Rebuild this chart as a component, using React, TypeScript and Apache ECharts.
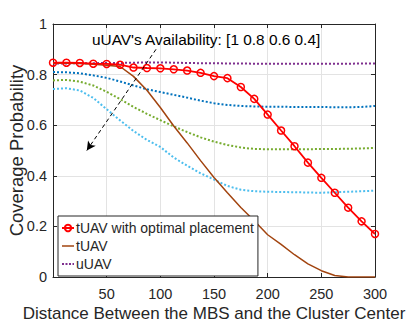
import React, { useEffect, useRef } from 'react';
import * as echarts from 'echarts';

const distance = [0, 12.5, 25, 37.5, 50, 62.5, 75, 87.5, 100, 112.5, 125, 137.5, 150, 162.5, 175, 187.5, 200, 212.5, 225, 237.5, 250, 262.5, 275, 287.5, 300];
const tuavOptimal = [0.847, 0.847, 0.846, 0.843, 0.842, 0.839, 0.828, 0.826, 0.825, 0.821, 0.816, 0.807, 0.794, 0.786, 0.751, 0.704, 0.642, 0.579, 0.517, 0.452, 0.392, 0.333, 0.274, 0.220, 0.170];
const tuav = [0.845, 0.845, 0.844, 0.841, 0.837, 0.832, 0.793, 0.738, 0.670, 0.597, 0.530, 0.460, 0.393, 0.333, 0.275, 0.222, 0.167, 0.129, 0.088, 0.052, 0.025, 0.006, 0, 0, 0];
const uuav = [0.844, 0.844, 0.845, 0.845, 0.846, 0.846, 0.847, 0.848, 0.848, 0.847, 0.846, 0.845, 0.845, 0.844, 0.844, 0.843, 0.843, 0.843, 0.843, 0.843, 0.843, 0.843, 0.843, 0.844, 0.844];
const uuav08 = [0.810, 0.809, 0.805, 0.797, 0.787, 0.773, 0.757, 0.742, 0.731, 0.720, 0.709, 0.697, 0.687, 0.680, 0.676, 0.674, 0.673, 0.673, 0.672, 0.672, 0.672, 0.671, 0.671, 0.672, 0.676];
const uuav06 = [0.777, 0.779, 0.772, 0.757, 0.732, 0.703, 0.672, 0.645, 0.620, 0.595, 0.573, 0.552, 0.535, 0.522, 0.512, 0.506, 0.505, 0.505, 0.505, 0.505, 0.506, 0.506, 0.507, 0.508, 0.510];
const uuav04 = [0.743, 0.746, 0.737, 0.708, 0.663, 0.619, 0.577, 0.542, 0.514, 0.472, 0.440, 0.410, 0.385, 0.360, 0.345, 0.339, 0.337, 0.336, 0.335, 0.334, 0.333, 0.335, 0.337, 0.339, 0.341];
const legendNames = ['tUAV with optimal placement', 'tUAV', 'uUAV'];
const annotation = "uUAV's Availability: [1 0.8 0.6 0.4]";
const arrowFrom = [96, 0.9];
const arrowTo = [31.5, 0.5];

const pairs = (ys: number[]) => distance.map((x, i) => [x, ys[i]]);
const FONT = 'Liberation Sans, Arial, Helvetica, sans-serif';
const TXT = '#262626';

export default function App() {
  const ref = useRef<HTMLDivElement>(null);
  useEffect(() => {
    if (!ref.current) return;
    const chart = echarts.init(ref.current, undefined, { renderer: 'svg' });
    const dotted = (color: string) => ({ color, width: 2, type: [2, 2] as number[], cap: 'butt' as const });
    chart.setOption({
      animation: false,
      backgroundColor: '#fff',
      textStyle: { fontFamily: FONT, color: TXT },
      grid: { left: 53, right: 40, top: 24, bottom: 45, containLabel: false, outerBoundsMode: 'none' },
      xAxis: [
        {
          type: 'value', min: 0, max: 300, interval: 50,
          name: 'Distance Between the MBS and the Cluster Center',
          nameLocation: 'middle', nameGap: 27.5, nameMoveOverlap: false,
          nameTextStyle: { fontSize: 17, color: TXT, fontFamily: FONT },
          axisLine: { show: true, lineStyle: { color: TXT, width: 1 } },
          axisTick: { show: true, inside: true, length: 4, lineStyle: { color: TXT } },
          axisLabel: { fontSize: 14.5, color: TXT, margin: 9, fontFamily: FONT, formatter: (v: number) => (v === 0 ? '' : String(v)) },
          splitLine: { show: true, lineStyle: { color: '#e3e3e3', width: 1 } },
        },
        {
          type: 'value', min: 0, max: 300, interval: 50, position: 'top',
          axisLine: { show: true, onZero: false, lineStyle: { color: TXT, width: 1 } },
          axisTick: { show: true, inside: true, length: 4, lineStyle: { color: TXT } },
          axisLabel: { show: false }, splitLine: { show: false },
        },
      ],
      yAxis: [
        {
          type: 'value', min: 0, max: 1, interval: 0.2,
          name: 'Coverage Probability', nameLocation: 'middle', nameGap: 27, nameMoveOverlap: false,
          nameTextStyle: { fontSize: 18.5, color: TXT, fontFamily: FONT },
          axisLine: { show: true, onZero: false, lineStyle: { color: TXT, width: 1 } },
          axisTick: { show: true, inside: true, length: 4, lineStyle: { color: TXT } },
          axisLabel: { fontSize: 14.5, color: TXT, margin: 6, fontFamily: FONT },
          splitLine: { show: true, lineStyle: { color: '#e3e3e3', width: 1 } },
        },
        {
          type: 'value', min: 0, max: 1, interval: 0.2, position: 'right',
          axisLine: { show: true, onZero: false, lineStyle: { color: TXT, width: 1 } },
          axisTick: { show: true, inside: true, length: 4, lineStyle: { color: TXT } },
          axisLabel: { show: false }, splitLine: { show: false },
        },
      ],
      legend: {
        data: [
          { name: legendNames[0] },
          { name: legendNames[1], icon: 'path://M0,0 L12,0 L12,1.5 L0,1.5 Z' },
          { name: legendNames[2], icon: 'path://M0,0 h2 v2 h-2 Z M3.5,0 h2 v2 h-2 Z M7,0 h2 v2 h-2 Z M10.5,0 h1.5 v2 h-1.5 Z' },
        ],
        orient: 'vertical', left: 58, top: 216,
        padding: [5, 4, 5, 3], itemGap: 4, itemWidth: 12, itemHeight: 8,
        backgroundColor: '#fff', borderColor: TXT, borderWidth: 1, borderRadius: 0,
        textStyle: { fontSize: 14, color: TXT, fontFamily: FONT, lineHeight: 14, padding: [0, 0, 0, -3] },
      },
      graphic: [
        {
          type: 'text', left: 92, top: 31.5, z: 100,
          style: { text: annotation, fontSize: 15.4, fill: '#000', fontFamily: FONT },
        },
      ],
      series: [
        { name: 'uUAV 0.4', type: 'line', data: pairs(uuav04), showSymbol: false, symbol: 'none', lineStyle: dotted('#4DBEEE'), itemStyle: { color: '#4DBEEE' } },
        { name: 'uUAV 0.6', type: 'line', data: pairs(uuav06), showSymbol: false, symbol: 'none', lineStyle: dotted('#77AC30'), itemStyle: { color: '#77AC30' } },
        { name: 'uUAV 0.8', type: 'line', data: pairs(uuav08), showSymbol: false, symbol: 'none', lineStyle: dotted('#0072BD'), itemStyle: { color: '#0072BD' } },
        { name: 'uUAV', type: 'line', data: pairs(uuav), showSymbol: false, symbol: 'none', lineStyle: dotted('#7E2F8E'), itemStyle: { color: '#7E2F8E' } },
        { name: 'tUAV', type: 'line', data: pairs(tuav), showSymbol: false, symbol: 'none', lineStyle: { color: '#A2440F', width: 1.5 }, itemStyle: { color: '#A2440F' } },
        {
          name: 'tUAV with optimal placement', type: 'line', data: pairs(tuavOptimal),
          symbol: 'circle', symbolSize: 7,
          lineStyle: { color: '#FF0000', width: 1.8 },
          itemStyle: { color: 'rgba(255,255,255,0)', borderColor: '#FF0000', borderWidth: 1.5 },
          markLine: {
            silent: true, symbol: ['none', 'arrow'], symbolSize: [7, 9],
            label: { show: false },
            lineStyle: { color: '#000', width: 1, type: [4, 3] },
            data: [[{ coord: arrowFrom }, { coord: arrowTo }]],
          },
        },
      ],
    });
    return () => chart.dispose();
  }, []);
  return <div ref={ref} style={{ position: 'fixed', left: 0, top: 0, width: 415, height: 322, background: '#fff' }} />;
}
